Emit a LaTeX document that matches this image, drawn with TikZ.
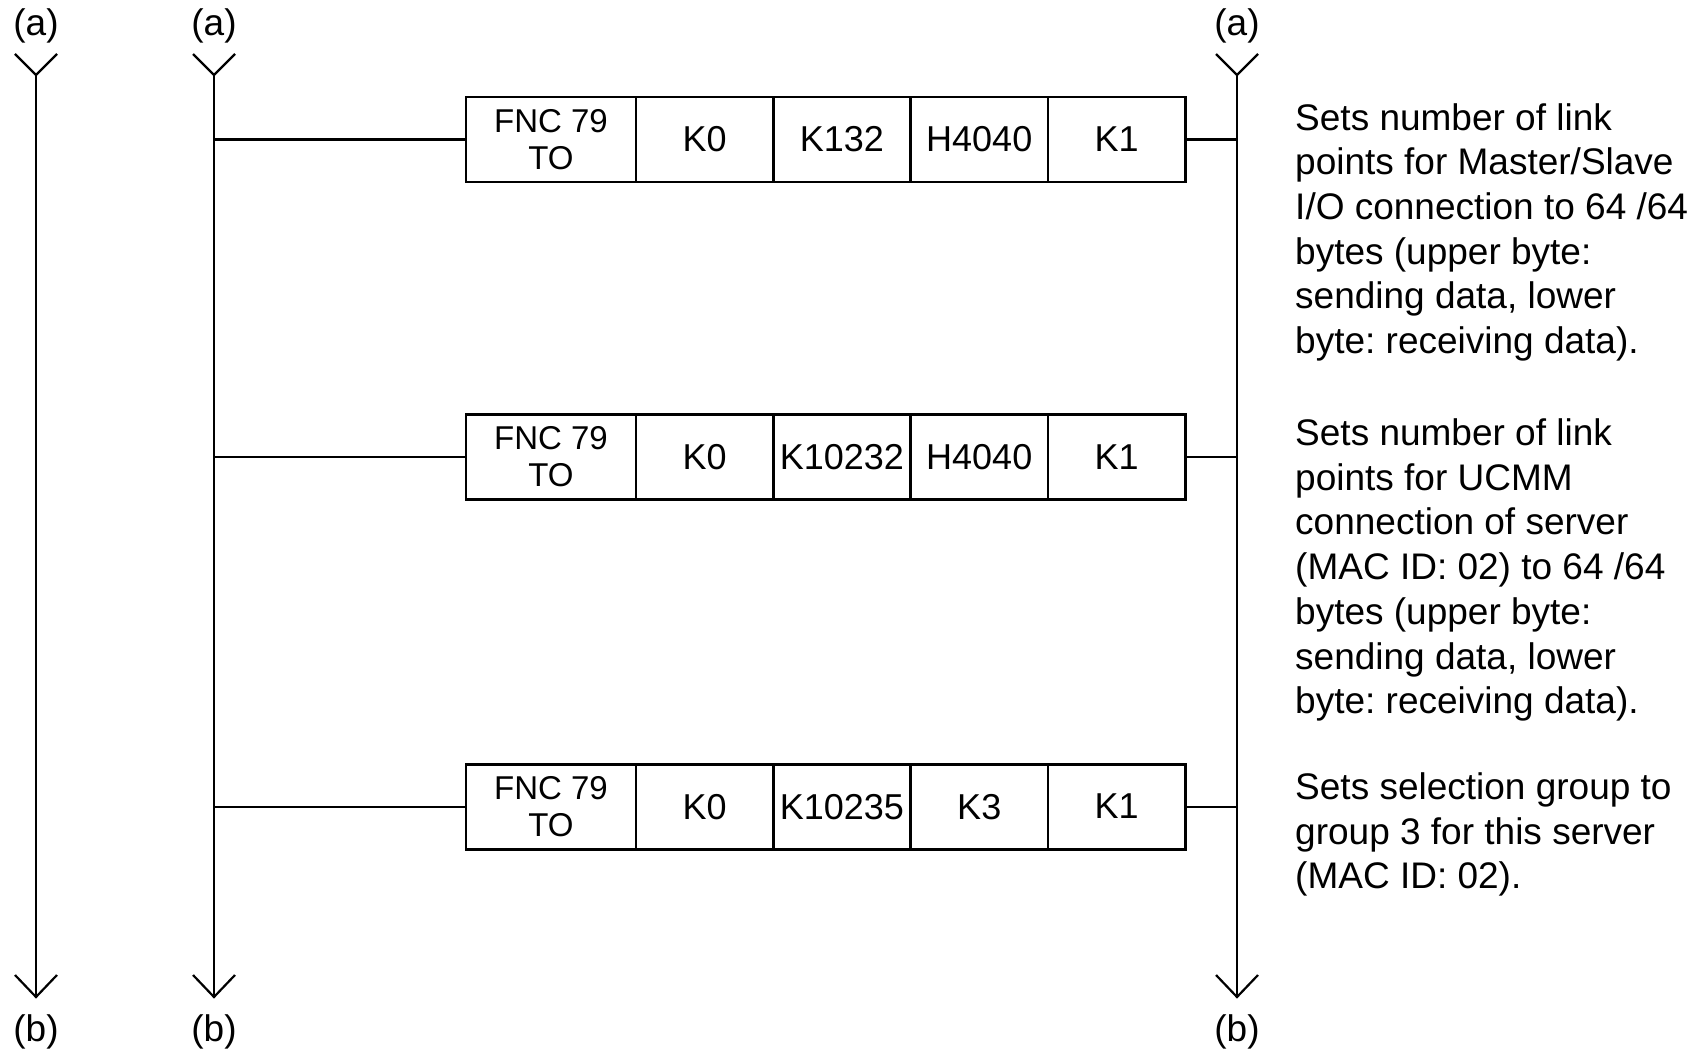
\documentclass[tikz,border=0pt]{standalone}
\usepackage{fontspec}
\setmainfont{Liberation Sans}
\frenchspacing
\begin{document}
\begin{tikzpicture}[x=1pt,y=-1pt,
  rail/.style={line width=2.2pt},
  cell/.style={draw, line width=2.8pt, minimum height=85pt, inner sep=0pt, outer sep=0pt, anchor=west, font=\fontsize{36}{40}\selectfont},
  fnc/.style={cell, minimum width=170pt, align=center, font=\fontsize{33}{37}\selectfont},
  arg/.style={cell, minimum width=137.3pt},
  lbl/.style={font=\fontsize{37}{44}\selectfont, inner sep=0pt},
  note/.style={font=\fontsize{37}{44.7}\selectfont, align=left, anchor=north west, inner sep=0pt}]
\useasboundingbox (0,0) rectangle (1708,1049);
% rails
\foreach \n/\x in {L/36, M/214, R/1237} {
  \node[lbl] (a\n) at (\x,26) {(a)};
  \node[lbl] (b\n) at (\x,1032) {(b)};
  \coordinate (t\n) at (\x,75);
  \coordinate (e\n) at (\x,997);
  \draw[rail] (\x-21,54) -- (t\n) -- (\x+21,54);
  \draw[rail] (t\n) -- (e\n);
  \draw[rail] (\x-21,975) -- (e\n) -- (\x+21,975);
}
% instruction boxes
\foreach \r/\y/\a/\b in {1/139.5/K132/H4040, 2/457/K10232/H4040, 3/806.6/K10235/K3} {
  \node[fnc] (c\r1) at (466,\y) {FNC 79\\TO};
  \node[arg] (c\r2) at (c\r1.east) {K0};
  \node[arg] (c\r3) at (c\r2.east) {\a};
  \node[arg] (c\r4) at (c\r3.east) {\b};
  \node[arg] (c\r5) at (c\r4.east) {K1};
  \draw[rail] (tM |- c\r1.west) -- (c\r1.west);
  \draw[rail] (c\r5.east) -- (tR |- c\r5.east);
}
% notes
\node[note] (n1) at (1295,103) {Sets number of link\\points for Master/Slave\\I/O connection to 64 /64\\bytes (upper byte:\\sending data, lower\\byte: receiving data).};
\node[note] (n2) at (1295,418.5) {Sets number of link\\points for UCMM\\connection of server\\(MAC ID: 02) to 64 /64\\bytes (upper byte:\\sending data, lower\\byte: receiving data).};
\node[note] (n3) at (1295,772.5) {Sets selection group to\\group 3 for this server\\(MAC ID: 02).};
\end{tikzpicture}
\end{document}
